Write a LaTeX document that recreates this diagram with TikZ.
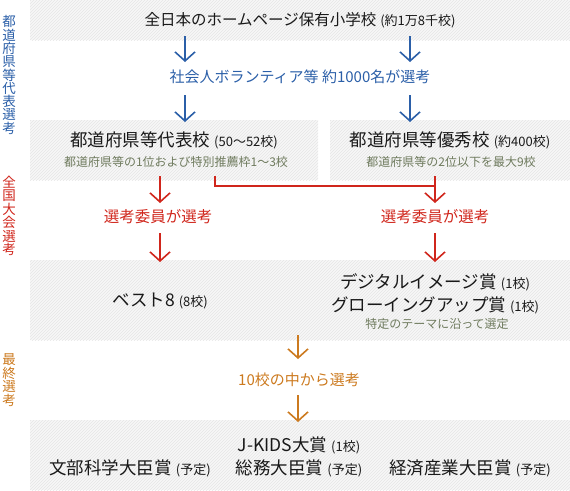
\documentclass[tikz,border=0pt]{standalone}
\usepackage{fontspec}
\setmainfont{Noto Sans CJK JP}
\usetikzlibrary{positioning, arrows.meta, patterns}
\definecolor{selblue}{RGB}{43, 95, 168}
\definecolor{selred}{RGB}{208, 38, 28}
\definecolor{selorange}{RGB}{204, 122, 31}
\definecolor{subgreen}{RGB}{111, 123, 94}
\newcommand{\pxsize}[1]{\fontsize{#1}{#1}\selectfont}
\newcommand{\paren}[1]{{\pxsize{13}\hspace{4pt}(#1)}}
\tikzset{
    stagebox/.style={draw=none, preaction={fill=black!3}, pattern=north east lines, pattern color=black!10, inner sep=0pt},
    title/.style={font=\pxsize{17.5}, text=black!90, inner sep=0pt},
    lead/.style={font=\pxsize{15.5}, text=black!90, inner sep=0pt},
    subnote/.style={font=\pxsize{12}, text=subgreen, inner sep=0pt},
    pick/.style={font=\pxsize{15.5}, inner sep=0pt},
    flow/.style={line width=1.6pt, -{Straight Barb[length=9pt, width=20pt]}},
    sidelabel/.style={font=\pxsize{13.5}, align=center, inner sep=0pt}
}

\begin{document}
\begin{tikzpicture}[x=1pt, y=-1pt]
    \useasboundingbox (0,0) rectangle (570,490);
    % stage boxes
    \node[stagebox, minimum width=540, minimum height=40] (schoolbox) at (300,20) {};
    \node[stagebox, minimum width=288, minimum height=60] (prefbox) at (174,150) {};
    \node[stagebox, minimum width=240, minimum height=60] (excelbox) at (450,150) {};
    \node[stagebox, minimum width=540, minimum height=80] (awardbox) at (300,300) {};
    \node[stagebox, minimum width=540, minimum height=70] (finalbox) at (300,455) {};

    % side labels
    \node[sidelabel, text=selblue, font=\fontsize{13.5}{13.3}\selectfont] (sidepref) at (9,75) {都\\道\\府\\県\\等\\代\\表\\選\\考};
    \node[sidelabel, text=selred] (sidenat) at (9,216) {全\\国\\大\\会\\選\\考};
    \node[sidelabel, text=selorange, font=\fontsize{13.5}{13.8}\selectfont] (sidefinal) at (9,380) {最\\終\\選\\考};

    % texts
    \node[lead] (school) at (300,20) {全日本のホームページ保有小学校\paren{約1万8千校}};
    \node[pick, text=selblue, font=\pxsize{15}] (volunteer) at (300,77) {社会人ボランティア等 約1000名が選考};
    \node[title] (pref) at (174,140) {都道府県等代表校\paren{50〜52校}};
    \node[subnote] (prefnote) at (176,162) {都道府県等の1位および特別推薦枠1〜3校};
    \node[title] (excel) at (450,140) {都道府県等優秀校\paren{約400校}};
    \node[subnote] (excelnote) at (451,162) {都道府県等の2位以下を最大9校};
    \node[pick, text=selred] (commleft) at (158,217) {選考委員が選考};
    \node[pick, text=selred] (commright) at (435,217) {選考委員が選考};
    \node[title] (best) at (160,301) {ベスト8\paren{8校}};
    \node[title] (digital) at (435,282) {デジタルイメージ賞\paren{1校}};
    \node[title] (growing) at (435,305) {グローイングアップ賞\paren{1校}};
    \node[subnote] (theme) at (437,324) {特定のテーマに沿って選定};
    \node[pick, text=selorange, font=\pxsize{15}] (tenpick) at (299,380) {10校の中から選考};
    \node[title] (jkids) at (299,445) {J-KIDS大賞\paren{1校}};
    \node[title] (monbu) at (130,468) {文部科学大臣賞\paren{予定}};
    \node[title] (soumu) at (299,468) {総務大臣賞\paren{予定}};
    \node[title] (keizai) at (470,468) {経済産業大臣賞\paren{予定}};

    % arrow ends
    \coordinate (b1) at (185,36);  \coordinate (b2) at (185,62);
    \coordinate (b3) at (410,36);  \coordinate (b4) at (410,62);
    \coordinate (b5) at (185,95);  \coordinate (b6) at (185,122);
    \coordinate (b7) at (410,95);  \coordinate (b8) at (410,122);
    \coordinate (r1) at (160,176); \coordinate (r2) at (160,203);
    \coordinate (r3) at (435,176); \coordinate (r4) at (435,203);
    \coordinate (r5) at (160,233); \coordinate (r6) at (160,262);
    \coordinate (r7) at (435,233); \coordinate (r8) at (435,262);
    \coordinate (jstart) at (215,176); \coordinate (jend) at (435,186);
    \coordinate (o1) at (298,335); \coordinate (o2) at (298,359);
    \coordinate (o3) at (298,395); \coordinate (o4) at (298,422);

    % connectors
    \draw[flow, selblue] (b1) -- (b2);
    \draw[flow, selblue] (b3) -- (b4);
    \draw[flow, selblue] (b5) -- (b6);
    \draw[flow, selblue] (b7) -- (b8);
    \draw[flow, selred] (r1) -- (r2);
    \draw[flow, selred] (r3) -- (r4);
    \draw[selred, line width=1.6pt] (jstart) |- (jend);
    \draw[flow, selred] (r5) -- (r6);
    \draw[flow, selred] (r7) -- (r8);
    \draw[flow, selorange] (o1) -- (o2);
    \draw[flow, selorange] (o3) -- (o4);
\end{tikzpicture}
\end{document}
